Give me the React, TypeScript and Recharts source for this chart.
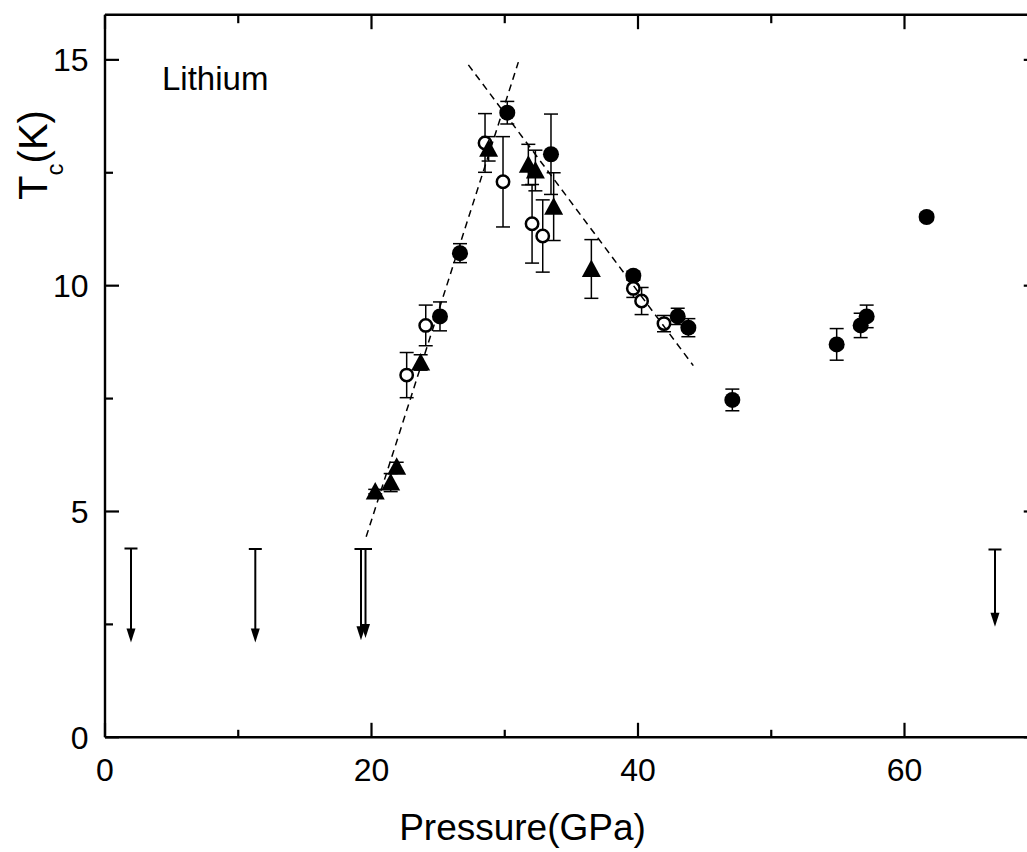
import React from 'react';
import { ScatterChart, Scatter, XAxis, YAxis, ErrorBar, ReferenceLine } from 'recharts';

const FONT = '"Liberation Sans", Arial, Helvetica, sans-serif';

// Filled circles
const filledP = [25.14, 26.64, 30.19, 33.47, 39.65, 42.98, 43.78, 47.08, 54.91, 56.71, 57.16, 61.66];
const filledT = [9.32, 10.72, 13.83, 12.91, 10.22, 9.32, 9.07, 7.47, 8.7, 9.12, 9.32, 11.52];
const filledE = [0.32, 0.21, 0.25, 0.89, 0.1, 0.18, 0.2, 0.24, 0.35, 0.27, 0.25, 0.08];

// Open circles
const openP = [22.64, 24.07, 28.52, 29.87, 32.05, 32.85, 39.65, 40.27, 41.95];
const openT = [8.02, 9.12, 13.16, 12.3, 11.37, 11.1, 9.94, 9.66, 9.16];
const openE = [0.5, 0.45, 0.65, 1.0, 0.87, 0.8, 0.2, 0.3, 0.18];

// Filled triangles
const triP = [20.28, 21.44, 21.89, 23.69, 28.79, 31.77, 32.3, 33.67, 36.5];
const triT = [5.44, 5.64, 5.99, 8.3, 13.03, 12.68, 12.55, 11.75, 10.37];
const triE = [0.05, 0.2, 0.1, 0.17, 0.27, 0.45, 0.45, 0.75, 0.65];

// Upper limits (arrows)
const arrowP = [1.95, 11.28, 19.21, 19.55, 66.79];
const arrowTop = [4.18, 4.17, 4.17, 4.17, 4.16];
const arrowTip = [2.1, 2.1, 2.15, 2.2, 2.45];

// Dashed guide lines
const fitUpP = [19.6, 31.02];
const fitUpT = [4.44, 14.95];
const fitDownP = [27.27, 44.15];
const fitDownT = [14.89, 8.23];

// Axes
const xTicks = [0, 10, 20, 30, 40, 50, 60, 70];
const xLabelTicks = [0, 20, 40, 60];
const yTicks = [0, 2.5, 5, 7.5, 10, 12.5, 15];
const yLabelTicks = [0, 5, 10, 15];

const filledData = filledP.map((x, i) => ({ x, y: filledT[i], e: filledE[i] }));
const openData = openP.map((x, i) => ({ x, y: openT[i], e: openE[i] }));
const triData = triP.map((x, i) => ({ x, y: triT[i], e: triE[i] }));
const capData = arrowP.map((x, i) => ({ x, y: arrowTop[i] }));
const tipData = arrowP.map((x, i) => ({ x, y: arrowTip[i] }));
const fitUpData = fitUpP.map((x, i) => ({ x, y: fitUpT[i] }));
const fitDownData = fitDownP.map((x, i) => ({ x, y: fitDownT[i] }));

const BottomTick = (props: any) => {
  const { x, y, payload } = props;
  const v = payload.value;
  const major = xLabelTicks.includes(v);
  return (
    <g>
      <line x1={x} y1={y} x2={x} y2={y - (major ? 14.5 : 7.5)} stroke="#000" strokeWidth={2.2} />
      {major && (
        <text x={x} y={y + 43.5} textAnchor="middle" fontSize={32} fontFamily={FONT} fill="#000">
          {v}
        </text>
      )}
    </g>
  );
};

const TopTick = (props: any) => {
  const { x, y, payload } = props;
  const major = xLabelTicks.includes(payload.value);
  return <line x1={x} y1={y} x2={x} y2={y + (major ? 14.5 : 8.5)} stroke="#000" strokeWidth={2.2} />;
};

const LeftTick = (props: any) => {
  const { x, y, payload } = props;
  const v = payload.value;
  const major = yLabelTicks.includes(v);
  return (
    <g>
      <line x1={x} y1={y} x2={x + (major ? 14 : 8)} y2={y} stroke="#000" strokeWidth={2.2} />
      {major && (
        <text x={x - 16.5} y={y + 11.5} textAnchor="end" fontSize={32} fontFamily={FONT} fill="#000">
          {v}
        </text>
      )}
    </g>
  );
};

const RightTick = (props: any) => {
  const { x, y, payload } = props;
  const major = yLabelTicks.includes(payload.value);
  return <line x1={x} y1={y} x2={x - (major ? 14 : 8)} y2={y} stroke="#000" strokeWidth={2.2} />;
};

const FilledCircle = (p: any) => <circle cx={p.cx} cy={p.cy} r={8} fill="#000" />;
const OpenCircle = (p: any) => (
  <circle cx={p.cx} cy={p.cy} r={6.2} fill="#fff" stroke="#000" strokeWidth={2.5} />
);
const Triangle = (p: any) => (
  <path
    d={`M${p.cx},${p.cy - 9.5} L${p.cx + 9.5},${p.cy + 8} L${p.cx - 9.5},${p.cy + 8} Z`}
    fill="#000"
  />
);
const Cap = (p: any) => (
  <line x1={p.cx - 6.5} y1={p.cy} x2={p.cx + 6.5} y2={p.cy} stroke="#000" strokeWidth={2} />
);
const ArrowHead = (p: any) => (
  <path d={`M${p.cx},${p.cy} L${p.cx + 4.5},${p.cy - 14} L${p.cx - 4.5},${p.cy - 14} Z`} fill="#000" />
);
const NoShape = () => <g />;

const axisStyle = { stroke: '#000', strokeWidth: 2.4 };
const dashed = { stroke: '#000', strokeWidth: 1.5, strokeDasharray: '7 5' };

export default function App() {
  return (
    <div
      style={{
        position: 'fixed',
        left: 0,
        top: 0,
        width: 1027,
        height: 852,
        overflow: 'hidden',
        background: '#fff',
      }}
    >
      <ScatterChart width={1048} height={852} margin={{ top: 0, right: 0, bottom: 0, left: 0 }}>
        <XAxis
          dataKey="x"
          type="number"
          domain={[0, 70]}
          ticks={xTicks}
          interval={0}
          height={114.7}
          tickSize={0}
          tickMargin={0}
          tickLine={false}
          tick={<BottomTick />}
          axisLine={axisStyle}
          allowDataOverflow
          label={{
            content: () => (
              <text x={522.5} y={840} textAnchor="middle" fontSize={37} fontFamily={FONT} fill="#000">
                Pressure(GPa)
              </text>
            ),
          }}
        />
        <XAxis
          xAxisId="top"
          orientation="top"
          dataKey="x"
          type="number"
          domain={[0, 70]}
          ticks={xTicks}
          interval={0}
          height={14.7}
          tickSize={0}
          tickMargin={0}
          tickLine={false}
          tick={<TopTick />}
          axisLine={axisStyle}
          allowDataOverflow
          label={{
            content: () => (
              <text x={162} y={90} fontSize={33} fontFamily={FONT} fill="#000">
                Lithium
              </text>
            ),
          }}
        />
        <YAxis
          dataKey="y"
          type="number"
          domain={[0, 16]}
          ticks={yTicks}
          interval={0}
          width={105}
          tickSize={0}
          tickMargin={0}
          tickLine={false}
          tick={<LeftTick />}
          axisLine={axisStyle}
          allowDataOverflow
          label={{
            content: () => (
              <text
                transform="translate(46.7,155) rotate(-90)"
                textAnchor="middle"
                fontSize={40}
                fontFamily={FONT}
                fill="#000"
              >
                <tspan>T</tspan>
                <tspan fontSize={24} dy={16}>c</tspan>
                <tspan dy={-16}>(K)</tspan>
              </text>
            ),
          }}
        />
        <YAxis
          yAxisId="right"
          orientation="right"
          dataKey="y"
          type="number"
          domain={[0, 16]}
          ticks={yTicks}
          interval={0}
          width={10.25}
          tickSize={0}
          tickMargin={0}
          tickLine={false}
          tick={<RightTick />}
          axisLine={axisStyle}
          allowDataOverflow
        />

        {arrowP.map((x, i) => (
          <ReferenceLine
            key={`shaft-${i}`}
            segment={[
              { x, y: arrowTop[i] },
              { x, y: arrowTip[i] + 0.15 },
            ]}
            stroke="#000"
            strokeWidth={2}
          />
        ))}
        <Scatter data={capData} shape={Cap} isAnimationActive={false} />
        <Scatter data={tipData} shape={ArrowHead} isAnimationActive={false} />

        <Scatter data={filledData} shape={FilledCircle} isAnimationActive={false}>
          <ErrorBar dataKey="e" direction="y" width={7} stroke="#000" strokeWidth={1.5} />
        </Scatter>
        <Scatter data={openData} shape={OpenCircle} isAnimationActive={false}>
          <ErrorBar dataKey="e" direction="y" width={7} stroke="#000" strokeWidth={1.5} />
        </Scatter>
        <Scatter data={triData} shape={Triangle} isAnimationActive={false}>
          <ErrorBar dataKey="e" direction="y" width={7} stroke="#000" strokeWidth={1.5} />
        </Scatter>

        <Scatter data={fitUpData} shape={NoShape} line={dashed} lineType="joint" isAnimationActive={false} />
        <Scatter data={fitDownData} shape={NoShape} line={dashed} lineType="joint" isAnimationActive={false} />
      </ScatterChart>
    </div>
  );
}
